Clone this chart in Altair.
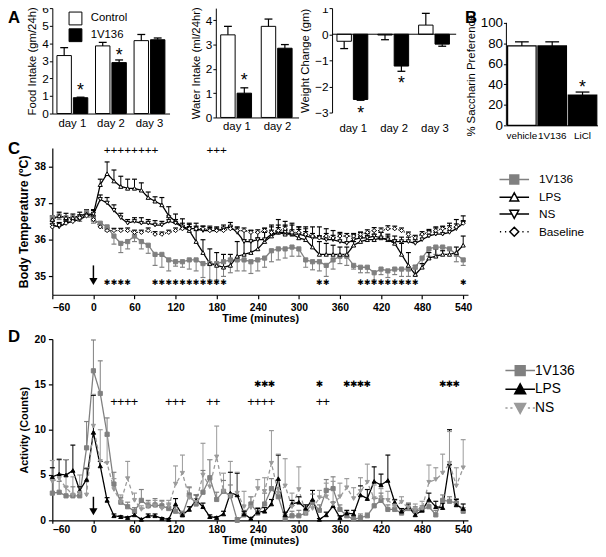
import altair as alt
import pandas as pd

FONT = "Liberation Sans"
BLACK = "#000000"
GRAY = "#808080"
LGRAY = "#9a9a9a"

panel_letters = ["A", "B", "C", "D"]

# ---------------- Panel A ----------------
days3 = ["day 1", "day 2", "day 3"]
days2 = ["day 1", "day 2"]
groups = ["Control", "1V136"]

food_ctrl = [3.3, 3.85, 4.15]
food_ctrl_err = [0.45, 0.2, 0.35]
food_trt = [0.9, 2.9, 4.2]
food_trt_err = [0.03, 0.15, 0.1]
food_star_days = ["day 1", "day 2"]
food_star_y = [1.5, 3.48]

water_ctrl = [3.4, 3.75]
water_ctrl_err = [0.35, 0.3]
water_trt = [1.0, 2.85]
water_trt_err = [0.22, 0.15]
water_star_days = ["day 1"]
water_star_y = [1.66]

weight_ctrl = [-0.27, -0.03, 0.35]
weight_ctrl_err = [0.28, 0.18, 0.45]
weight_trt = [-2.5, -1.22, -0.38]
weight_trt_err = [0.03, 0.2, 0.08]
weight_star_days = ["day 1", "day 2"]
weight_star_y = [-2.92, -1.74]

# ---------------- Panel B ----------------
b_groups = ["vehicle", "1V136", "LiCl"]
b_vals = [77.5, 77.5, 29.5]
b_err = [4.0, 4.0, 3.0]
b_star_groups = ["LiCl"]
b_star_y = [40.0]

# ---------------- Panel C (body temperature) ----------------
times = list(range(-60, 541, 10))
c_names = ["1V136", "LPS", "NS", "Baseline"]
c_1v136 = [36.6, 36.65, 36.6, 36.6, 36.6, 36.75, 36.55, 36.45, 36.35, 36.1,
           35.9, 35.95, 36.1, 35.95, 35.85, 35.6, 35.6, 35.45, 35.4, 35.4,
           35.45, 35.45, 35.35, 35.35, 35.35, 35.4, 35.45, 35.45, 35.45, 35.4,
           35.45, 35.5, 35.7, 35.75, 35.75, 35.8, 35.75, 35.45, 35.4, 35.4,
           35.3, 35.45, 35.55, 35.55, 35.3, 35.25, 35.25, 35.1, 35.2, 35.15,
           35.2, 35.2, 35.2, 35.25, 35.5, 35.75, 35.8, 35.8, 35.75, 35.6,
           35.45]
c_1v136_err = [0.1, 0.1, 0.1, 0.1, 0.1, 0.1, 0.1, 0.08, 0.12, 0.22,
               0.25, 0.2, 0.15, 0.2, 0.22, 0.3, 0.35, 0.3, 0.12, 0.15,
               0.25, 0.3, 0.38, 0.45, 0.45, 0.4, 0.35, 0.3, 0.3, 0.32,
               0.3, 0.25, 0.3, 0.3, 0.25, 0.25, 0.2, 0.2, 0.22, 0.25,
               0.3, 0.25, 0.2, 0.25, 0.1, 0.15, 0.15, 0.2, 0.15, 0.18,
               0.15, 0.2, 0.2, 0.22, 0.15, 0.2, 0.2, 0.2, 0.15, 0.2,
               0.15]
c_lps = [36.55, 36.65, 36.6, 36.6, 36.65, 36.7, 36.7, 37.5, 37.8, 37.6,
         37.45, 37.4, 37.4, 37.35, 37.15, 37.05, 36.95, 36.65, 36.5, 36.35,
         36.25, 35.95, 35.65, 35.35, 35.3, 35.25, 35.3, 35.55, 35.6, 35.65,
         35.75, 35.95, 36.1, 36.2, 36.15, 36.15, 36.05, 36.0, 35.8, 35.6,
         35.6, 35.6, 35.6, 35.6, 35.85, 35.95, 36.0, 36.0, 36.05, 36.0,
         35.9, 35.6, 35.3, 35.05, 35.25, 35.5, 35.55, 35.6, 35.6, 35.65,
         35.85]
c_lps_err = [0.1, 0.1, 0.12, 0.1, 0.1, 0.12, 0.1, 0.15, 0.32, 0.3,
             0.28, 0.25, 0.25, 0.2, 0.15, 0.12, 0.2, 0.25, 0.2, 0.22,
             0.2, 0.3, 0.35, 0.4, 0.35, 0.35, 0.3, 0.4, 0.4, 0.3,
             0.3, 0.25, 0.3, 0.35, 0.25, 0.3, 0.3, 0.35, 0.3, 0.35,
             0.3, 0.25, 0.2, 0.2, 0.1, 0.1, 0.12, 0.15, 0.15, 0.1,
             0.1, 0.3, 0.35, 0.25, 0.1, 0.15, 0.2, 0.1, 0.15, 0.15,
             0.25]
c_ns = [36.4, 36.35, 36.45, 36.5, 36.55, 36.65, 36.7, 37.1, 37.0, 36.8,
        36.6, 36.45, 36.5, 36.45, 36.45, 36.4, 36.4, 36.5, 36.45, 36.35,
        36.3, 36.3, 36.25, 36.25, 36.25, 36.3, 36.35, 36.2, 35.95, 35.95,
        36.0, 36.0, 36.15, 36.2, 36.2, 36.15, 36.15, 36.1, 36.05, 36.05,
        36.0, 36.0, 35.95, 35.9, 36.0, 36.05, 36.05, 36.1, 36.05, 36.0,
        35.95, 35.95, 35.95, 35.9, 36.0, 36.1, 36.15, 36.15, 36.2, 36.3,
        36.45]
c_ns_err = [0.12, 0.1, 0.1, 0.1, 0.1, 0.1, 0.12, 0.12, 0.15, 0.15,
            0.12, 0.1, 0.1, 0.15, 0.1, 0.12, 0.1, 0.15, 0.1, 0.1,
            0.12, 0.15, 0.12, 0.12, 0.1, 0.1, 0.12, 0.15, 0.3, 0.3,
            0.2, 0.3, 0.2, 0.2, 0.3, 0.25, 0.2, 0.2, 0.3, 0.3,
            0.3, 0.25, 0.25, 0.2, 0.15, 0.15, 0.12, 0.15, 0.15, 0.15,
            0.15, 0.12, 0.12, 0.1, 0.15, 0.15, 0.2, 0.2, 0.25, 0.25,
            0.2]
c_base = [36.35, 36.4, 36.45, 36.5, 36.6, 36.65, 36.55, 36.35, 36.25, 36.25,
          36.25, 36.25, 36.2, 36.2, 36.25, 36.15, 36.15, 36.2, 36.25, 36.3,
          36.3, 36.3, 36.3, 36.25, 36.25, 36.25, 36.3, 36.25, 36.25, 36.2,
          36.2, 36.25, 36.2, 36.25, 36.3, 36.2, 36.2, 36.15, 36.1, 36.05,
          36.1, 36.05, 36.1, 36.1, 36.1, 36.15, 36.2, 36.25, 36.25, 36.3,
          36.3, 36.25, 36.15, 36.05, 36.15, 36.2, 36.25, 36.3, 36.3, 36.35,
          36.45]
c_base_err = [0.08, 0.07, 0.07, 0.08, 0.08, 0.07, 0.07, 0.08, 0.07, 0.06,
              0.06, 0.07, 0.06, 0.06, 0.07, 0.07, 0.06, 0.06, 0.07, 0.07,
              0.06, 0.07, 0.07, 0.08, 0.07, 0.07, 0.06, 0.07, 0.07, 0.06,
              0.07, 0.07, 0.06, 0.08, 0.07, 0.07, 0.08, 0.07, 0.07, 0.06,
              0.07, 0.07, 0.06, 0.07, 0.07, 0.06, 0.07, 0.08, 0.07, 0.08,
              0.07, 0.07, 0.06, 0.07, 0.07, 0.08, 0.07, 0.07, 0.08, 0.08,
              0.07]
c_err_dir = [-1, 1, 1, 1]
c_star_times = [20, 30, 40, 50, 90, 100, 110, 120, 130, 140, 150, 160, 170, 180, 190,
                330, 340, 390, 400, 410, 420, 430, 440, 450, 460, 470, 540]
c_star_level = 34.81
c_plus_times = [20, 30, 40, 50, 60, 70, 80, 90, 170, 180, 190]
c_plus_level = 38.45
c_arrow_t = [0]
c_arrow_top = [35.3]
c_arrow_head = [34.86]

# ---------------- Panel D (activity) ----------------
d_names = ["1V136", "LPS", "NS"]
d_1v136 = [3.0, 3.1, 2.7, 2.7, 2.7, 8.0, 16.5, 14.0, 9.5, 4.0,
           2.0, 1.5, 1.0, 2.2, 1.6, 1.7, 1.6, 1.3, 1.0, 0.6,
           2.8, 1.8, 3.1, 4.7, 2.3, 3.2, 2.7, 0.0, 0.6, 1.8,
           0.8, 1.8, 3.5, 2.6, 0.2, 0.5, 0.5, 0.8, 2.0, 1.1,
           3.3, 3.5, 1.2, 0.5, 0.1, 0.3, 0.5, 1.6, 2.2, 1.2,
           1.2, 0.8, 1.3, 1.0, 1.2, 1.5, 0.6, 2.2, 2.1, 1.9,
           1.0]
d_1v136_err = [1.5, 1.2, 1.0, 1.0, 1.0, 2.9, 3.4, 3.6, 1.8, 1.3,
               0.5, 0.5, 0.4, 1.2, 0.6, 0.7, 0.6, 0.6, 0.5, 0.4,
               0.8, 0.6, 2.4, 2.0, 0.8, 1.2, 1.2, 0.3, 0.5, 0.8,
               0.6, 1.2, 1.1, 1.0, 0.4, 0.5, 0.6, 0.4, 0.9, 0.6,
               1.2, 1.3, 0.5, 0.4, 0.3, 0.4, 0.3, 0.8, 0.8, 0.5,
               0.4, 0.4, 0.6, 0.5, 0.4, 0.5, 0.5, 0.6, 0.5, 0.5,
               0.4]
d_lps = [4.8, 5.1, 5.0, 5.5, 3.3, 4.5, 9.7, 6.0, 2.2, 0.5,
         0.4, 0.3, 0.6, 0.1, 0.5, 0.5, 0.2, 0.1, 1.8, 0.6,
         1.2, 2.2, 1.5, 0.4, 0.3, 0.7, 3.0, 2.8, 0.7, 0.2,
         0.9, 1.0, 1.8, 4.6, 0.6, 1.8, 2.0, 1.3, 2.3, 0.1,
         0.6, 1.6, 0.3, 0.8, 0.7, 2.8, 2.4, 4.3, 3.9, 4.4,
         2.0, 1.0, 1.5, 0.6, 1.1, 2.3, 1.5, 1.4, 6.3, 1.7,
         1.3]
d_lps_err = [1.0, 1.6, 1.7, 2.8, 0.4, 1.2, 4.1, 0.5, 0.3, 0.2,
             0.1, 0.1, 0.2, 0.1, 0.2, 0.2, 0.1, 0.1, 0.6, 0.2,
             0.3, 0.6, 0.4, 0.2, 0.1, 0.3, 2.3, 2.4, 0.3, 0.1,
             0.4, 0.4, 0.5, 2.6, 0.3, 0.4, 0.6, 0.4, 1.0, 0.1,
             0.3, 0.4, 0.2, 0.3, 0.4, 1.0, 1.0, 1.6, 1.2, 2.8,
             0.3, 0.3, 0.3, 0.3, 0.3, 0.7, 0.6, 0.5, 3.7, 0.6,
             0.5]
d_ns = [4.3, 4.6, 3.6, 2.8, 3.0, 2.8, 10.4, 6.5, 6.3, 3.4,
        2.0, 4.6, 2.2, 1.2, 1.5, 1.6, 1.3, 1.6, 4.0, 5.2,
        2.5, 2.0, 5.0, 3.7, 7.0, 3.2, 2.7, 3.0, 1.5, 1.4,
        3.5, 3.2, 6.3, 3.0, 3.8, 1.5, 3.4, 0.8, 1.3, 2.5,
        2.6, 1.8, 2.6, 3.6, 2.4, 3.2, 4.2, 2.4, 2.5, 2.2,
        1.6, 2.0, 1.4, 1.2, 1.3, 4.2, 4.5, 5.2, 6.3, 3.8,
        5.8]
d_ns_err = [2.3, 2.2, 3.1, 2.0, 2.0, 3.0, 3.5, 3.5, 3.0, 1.2,
            0.8, 1.9, 0.8, 0.4, 0.5, 0.6, 0.8, 0.6, 2.0, 2.0,
            1.2, 0.8, 3.5, 3.0, 3.4, 2.0, 3.8, 2.3, 1.7, 1.2,
            1.0, 1.5, 3.6, 4.3, 3.0, 1.5, 2.5, 0.6, 0.6, 0.8,
            1.5, 2.5, 1.5, 1.0, 1.2, 1.5, 2.0, 1.5, 1.0, 1.0,
            0.6, 0.6, 0.5, 0.6, 0.8, 1.9, 1.3, 2.1, 3.5, 2.0,
            3.1]
d_star_times = [240, 250, 260, 330, 370, 380, 390, 400, 510, 520, 530]
d_star_level = 15.0
d_plus_times = [30, 40, 50, 60, 110, 120, 130, 170, 180, 230, 240, 250, 260, 330, 340]
d_plus_level = 13.1
d_arrow_t = [0]
d_arrow_top = [2.6]
d_arrow_head = [0.95]


# ================= helpers =================
def grouped_df(days, ctrl, ctrl_err, trt, trt_err):
    rows = []
    for g, vals, errs in (("Control", ctrl, ctrl_err), ("1V136", trt, trt_err)):
        for d, v, e in zip(days, vals, errs):
            rows.append({"day": d, "grp": g, "val": v, "end": v + e if v >= 0 else v - e})
    return pd.DataFrame(rows)


def letter_layer(letter, dx, dy):
    # panel letter, placed relative to the panel's plot origin
    return alt.Chart(pd.DataFrame({"lbl": [letter]})).mark_text(
        font=FONT, fontSize=17, fontWeight="bold", color=BLACK, align="left", baseline="middle"
    ).encode(text="lbl:N", x=alt.value(dx), y=alt.value(dy))


def a_yaxis(values, title, label_size=12, **kw):
    return alt.Axis(values=values, title=title, grid=False, labelFont=FONT, titleFont=FONT,
                    labelFontSize=label_size, titleFontSize=11.5, titleFontWeight="normal",
                    labelColor=BLACK, titleColor=BLACK, domainColor=BLACK, tickColor=BLACK,
                    tickSize=3, labelPadding=1, titlePadding=4, **kw)


def a_panel(df, days, ydom, yvals, ytitle, w, h, star_days, star_y,
            legend=None, zero_line=False, xdomain=True, label_pad=5, letter=None):
    xenc = alt.X("day:N", sort=days, title=None,
                 scale=alt.Scale(paddingInner=0.2, paddingOuter=0.12),
                 axis=alt.Axis(labelAngle=0, ticks=False, domain=xdomain, labelFont=FONT,
                               labelFontSize=11.5, labelColor=BLACK, domainColor=BLACK,
                               labelPadding=label_pad))
    xo = alt.XOffset("grp:N", sort=groups, scale=alt.Scale(domain=groups, paddingInner=0.12))
    yenc = alt.Y("val:Q", scale=alt.Scale(domain=ydom, nice=False, zero=False),
                 axis=a_yaxis(yvals, ytitle))
    base = alt.Chart(df)
    bars = base.mark_bar(stroke=BLACK, strokeWidth=1).encode(
        x=xenc, xOffset=xo, y=yenc,
        fill=alt.Fill("grp:N", scale=alt.Scale(domain=groups, range=["white", "black"]), legend=legend))
    err = base.mark_rule(color=BLACK, strokeWidth=1.2).encode(x=xenc, xOffset=xo, y=yenc, y2="end:Q")
    cap = base.transform_calculate(val="datum.end").mark_tick(
        color=BLACK, orient="horizontal", size=8, thickness=1.3, opacity=1).encode(x=xenc, xOffset=xo, y=yenc)
    sdf = pd.DataFrame({"day": star_days, "grp": ["1V136"] * len(star_days), "val": star_y})
    stars = alt.Chart(sdf).mark_text(text="*", font=FONT, fontSize=18, color=BLACK,
                                     baseline="middle", dy=4).encode(x=xenc, xOffset=xo, y=yenc)
    layers = [bars, err, cap, stars]
    if zero_line:
        layers.append(alt.Chart(pd.DataFrame({"val": [0]})).mark_rule(color=BLACK, strokeWidth=1).encode(y=yenc))
    if letter is not None:
        layers.append(letter)
    return alt.layer(*layers).properties(width=w, height=h)


INDEP = dict(color="independent", fill="independent", stroke="independent",
             shape="independent", strokeDash="independent")

# ---------------- A sub panels ----------------
a_legend = alt.Legend(orient="none", legendX=16, legendY=3, title=None, symbolType="square",
                      symbolSize=170, symbolStrokeColor=BLACK, symbolStrokeWidth=1,
                      labelFont=FONT, labelFontSize=11.5, labelColor=BLACK, labelOffset=8, rowPadding=-10)

a1 = a_panel(grouped_df(days3, food_ctrl, food_ctrl_err, food_trt, food_trt_err), days3,
             [0, 6], [0, 1, 2, 3, 4, 5, 6], "Food Intake (gm/24h)", 119, 107,
             food_star_days, food_star_y, legend=a_legend, label_pad=4,
             letter=letter_layer(panel_letters[0], -45, 10))
a2 = a_panel(grouped_df(days2, water_ctrl, water_ctrl_err, water_trt, water_trt_err), days2,
             [0, 4.5], [0, 1, 2, 3, 4], "Water Intake (ml/24hr)", 84, 111,
             water_star_days, water_star_y, label_pad=3)
a3 = a_panel(grouped_df(days3, weight_ctrl, weight_ctrl_err, weight_trt, weight_trt_err), days3,
             [-3, 1], [-3, -2, -1, 0, 1], "Weight Change (gm)", 126, 106,
             weight_star_days, weight_star_y, zero_line=True, xdomain=False, label_pad=10)

# ---------------- B ----------------
b_df = pd.DataFrame({"grp": b_groups, "val": b_vals,
                     "end": [v + e for v, e in zip(b_vals, b_err)]})
xb = alt.X("grp:N", sort=b_groups, title=None, scale=alt.Scale(paddingInner=0.06, paddingOuter=0.04),
           axis=alt.Axis(labelAngle=0, ticks=False, labelFont=FONT, labelFontSize=10,
                         labelColor=BLACK, domainColor=BLACK, labelPadding=5, labelOverlap=False))
yb = alt.Y("val:Q", scale=alt.Scale(domain=[0, 114.4], nice=False),
           axis=a_yaxis([0, 20, 40, 60, 80, 100], "% Saccharin Preference", label_size=13.5,
                        domain=False, titleY=68))
b_base = alt.Chart(b_df)
b_bars = b_base.mark_bar(stroke=BLACK, strokeWidth=1.2).encode(
    x=xb, y=yb, fill=alt.Fill("grp:N", scale=alt.Scale(domain=b_groups, range=["white", "black", "black"]), legend=None))
b_err_r = b_base.mark_rule(color=BLACK, strokeWidth=1.2).encode(x=xb, y=yb, y2="end:Q")
b_cap = b_base.transform_calculate(val="datum.end").mark_tick(
    color=BLACK, orient="horizontal", size=14, thickness=1.3, opacity=1).encode(x=xb, y=yb)
b_star = alt.Chart(pd.DataFrame({"grp": b_star_groups, "val": b_star_y})).mark_text(
    text="*", font=FONT, fontSize=18, color=BLACK, baseline="middle", dy=4).encode(x=xb, y=yb)
b_axis = alt.Chart(pd.DataFrame({"val": [0], "end": [100]})).mark_rule(color=BLACK, strokeWidth=1).encode(
    x=alt.value(0), y=yb, y2="end:Q")
b_chart = alt.layer(b_bars, b_err_r, b_cap, b_star, b_axis,
                    letter_layer(panel_letters[1], -42, 10)).properties(width=93, height=119)


# ---------------- time-series panels ----------------
def ts_axis(values, title, title_size=11, **kw):
    return alt.Axis(values=values, title=title, grid=False, labelFont=FONT, titleFont=FONT,
                    labelFontSize=10.5, titleFontSize=title_size, labelFontWeight="bold",
                    titleFontWeight="bold", labelColor=BLACK, titleColor=BLACK,
                    domainColor=BLACK, tickColor=BLACK, domainWidth=1.2,
                    tickWidth=1.2, **kw)


def long_df(names, vals, errs, dirs):
    rows = []
    for n, vs, es, d in zip(names, vals, errs, dirs):
        for t, v, e in zip(times, vs, es):
            rows.append({"t": t, "s": n, "v": v, "end": v + d * e})
    return pd.DataFrame(rows)


def ts_panel(df, names, colors, fills, shapes, dashes, legend_paths, legend_fills, xenc, yenc,
             star_times, star_level, plus_times, plus_level, arrow_t, arrow_top, arrow_head,
             legend_kw, star_size, plus_size, msize, w, h, letter):
    def col(ch):
        return ch("s:N", scale=alt.Scale(domain=names, range=colors), legend=None)
    base = alt.Chart(df)
    line = base.mark_line(strokeWidth=1.3).encode(
        x=xenc, y=yenc, color=col(alt.Color),
        strokeDash=alt.StrokeDash("s:N", scale=alt.Scale(domain=names, range=dashes), legend=None))
    err = base.mark_rule(strokeWidth=1).encode(x=xenc, y=yenc, y2="end:Q", color=col(alt.Color))
    cap = base.transform_calculate(v="datum.end").mark_tick(
        orient="horizontal", size=5, thickness=1.2, opacity=1).encode(x=xenc, y=yenc, color=col(alt.Color))
    pts = base.mark_point(size=msize, strokeWidth=1, opacity=1, filled=False).encode(
        x=xenc, y=yenc,
        shape=alt.Shape("s:N", scale=alt.Scale(domain=names, range=shapes), legend=None),
        stroke=col(alt.Stroke),
        fill=alt.Fill("s:N", scale=alt.Scale(domain=names, range=fills), legend=None))
    leg = alt.Legend(**legend_kw)
    leg_layer = base.transform_filter("false").mark_point(opacity=1, filled=False).encode(
        x=xenc, y=yenc,
        shape=alt.Shape("s:N", scale=alt.Scale(domain=names, range=legend_paths), legend=leg),
        stroke=alt.Stroke("s:N", scale=alt.Scale(domain=names, range=colors), legend=leg),
        fill=alt.Fill("s:N", scale=alt.Scale(domain=names, range=legend_fills), legend=leg))
    stars = alt.Chart(pd.DataFrame({"t": star_times, "v": [star_level] * len(star_times)})).mark_text(
        text="✱", font="DejaVu Sans", fontSize=star_size, color=BLACK, baseline="middle").encode(x=xenc, y=yenc)
    plus = alt.Chart(pd.DataFrame({"t": plus_times, "v": [plus_level] * len(plus_times)})).mark_text(
        text="+", font=FONT, fontSize=plus_size, color=BLACK, baseline="middle").encode(x=xenc, y=yenc)
    adf = pd.DataFrame({"t": arrow_t, "v": arrow_top, "end": arrow_head})
    arr = alt.Chart(adf).mark_rule(color=BLACK, strokeWidth=1.5).encode(x=xenc, y=yenc, y2="end:Q")
    head = alt.Chart(adf).transform_calculate(v="datum.end").mark_point(
        shape="triangle-down", size=70, filled=True, color=BLACK, opacity=1).encode(x=xenc, y=yenc)
    return alt.layer(line, err, cap, pts, leg_layer, stars, plus, arr, head, letter).resolve_scale(
        **INDEP).properties(width=w, height=h)


x_ticks = list(range(-60, 541, 60))

# Panel C
c_df = long_df(c_names, [c_1v136, c_lps, c_ns, c_base],
               [c_1v136_err, c_lps_err, c_ns_err, c_base_err], c_err_dir)
xc = alt.X("t:Q", scale=alt.Scale(domain=[-60, 547], nice=False, zero=False),
           axis=ts_axis(x_ticks, "Time (minutes)", tickSize=4, labelPadding=4, titlePadding=0))
yc = alt.Y("v:Q", scale=alt.Scale(domain=[34.5, 38.5], nice=False, zero=False),
           axis=ts_axis([35, 36, 37, 38], "Body Temperature (ºC)", title_size=12.5,
                        tickSize=4, labelPadding=3, titlePadding=4))
c_legend_paths = [
    "M-1.667,0H1.667M-0.5,-0.5H0.5V0.5H-0.5Z",
    "M-1.667,0H-0.27M0.27,0H1.667M0,-0.5L0.5,0.42L-0.5,0.42Z",
    "M-1.667,0H-0.27M0.27,0H1.667M0,0.5L0.5,-0.42L-0.5,-0.42Z",
    "M-1.62,0H-1.48M-1.05,0H-0.91M0.91,0H1.05M1.48,0H1.62M0,-0.5L0.5,0L0,0.5L-0.5,0Z",
]
c_legend_kw = dict(orient="none", legendX=459, legendY=22, title=None, symbolSize=324,
                   symbolStrokeWidth=1.5, labelFont=FONT, labelFontSize=12, labelColor=BLACK,
                   labelOffset=15, rowPadding=-2)
chart_c = ts_panel(c_df, c_names, [GRAY, BLACK, BLACK, BLACK], [GRAY, "white", "white", "white"],
                   ["square", "triangle-up", "triangle-down", "diamond"],
                   [[1, 0], [1, 0], [1, 0], [1, 2]], c_legend_paths,
                   [GRAY, "white", "white", "white"], xc, yc,
                   c_star_times, c_star_level, c_plus_times, c_plus_level,
                   c_arrow_t, c_arrow_top, c_arrow_head, c_legend_kw, 8, 12, 18, 422, 149,
                   letter_layer(panel_letters[2], -45, 1))

# Panel D
d_df = long_df(d_names, [d_1v136, d_lps, d_ns], [d_1v136_err, d_lps_err, d_ns_err], [1, 1, 1])
xd = alt.X("t:Q", scale=alt.Scale(domain=[-60, 547], nice=False, zero=False),
           axis=ts_axis(x_ticks, "Time (minutes)", tickSize=3, labelPadding=1, titlePadding=0))
yd = alt.Y("v:Q", scale=alt.Scale(domain=[0, 20], nice=False, zero=False),
           axis=ts_axis([0, 5, 10, 15, 20], "Activity (Counts)", tickSize=4, labelPadding=3, titlePadding=5))
d_legend_paths = [
    "M-1.5,0H1.5M-0.5,-0.5H0.5V0.5H-0.5Z",
    "M-1.5,0H1.5M0,-0.55L0.55,0.45L-0.55,0.45Z",
    "M-1.5,0H-1.28M-1.0,0H-0.78M0.78,0H1.0M1.28,0H1.5M0,0.55L0.55,-0.45L-0.55,-0.45Z",
]
d_legend_kw = dict(orient="none", legendX=464, legendY=21, title=None, symbolSize=400,
                   symbolStrokeWidth=1.5, labelFont=FONT, labelFontSize=14, labelColor=BLACK,
                   labelOffset=4, rowPadding=-2)
chart_d = ts_panel(d_df, d_names, [GRAY, BLACK, LGRAY], [GRAY, BLACK, LGRAY],
                   ["square", "triangle-up", "triangle-down"],
                   [[1, 0], [1, 0], [4, 3]], d_legend_paths, [GRAY, BLACK, LGRAY], xd, yd,
                   d_star_times, d_star_level, d_plus_times, d_plus_level,
                   d_arrow_t, d_arrow_top, d_arrow_head, d_legend_kw, 9, 13, 18, 422, 184,
                   letter_layer(panel_letters[3], -45, -2))

# ---------------- layout ----------------
row1 = alt.hconcat(
    alt.hconcat(alt.hconcat(a1, a2, spacing=21).resolve_scale(**INDEP), a3, spacing=1).resolve_scale(**INDEP),
    b_chart, spacing=8).resolve_scale(**INDEP)

chart = alt.vconcat(
    alt.vconcat(row1, chart_c, spacing=0).resolve_scale(**INDEP),
    chart_d, spacing=4).resolve_scale(**INDEP).properties(
    padding={"top": -10, "left": 0, "right": 0, "bottom": 0}
).configure_view(stroke=None)

chart.save("out.html", embed_options={"renderer": "svg", "actions": False})
